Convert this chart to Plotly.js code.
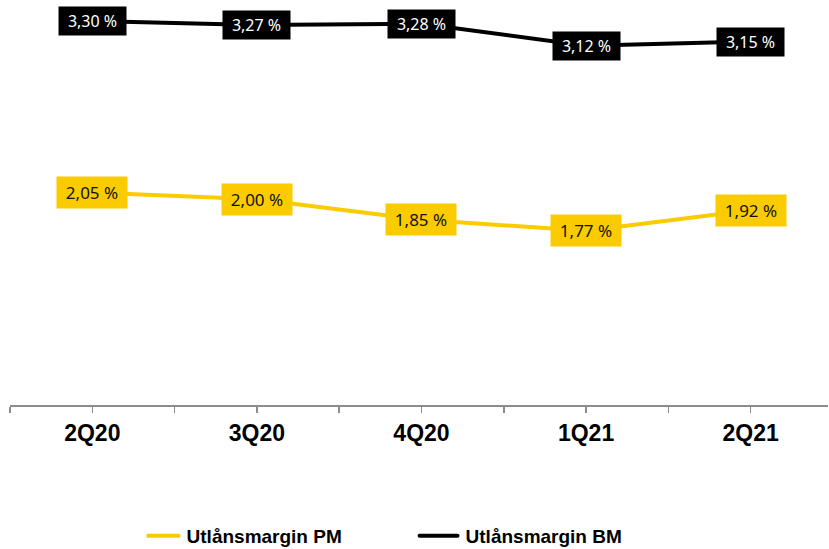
<!DOCTYPE html>
<html>
<head>
<meta charset="utf-8">
<script src="https://cdn.plot.ly/plotly-3.0.1.min.js"></script>
<style>
  html, body { margin: 0; padding: 0; background: #ffffff; }
  #chart { width: 829px; height: 549px; }
</style>
</head>
<body>
<div id="chart"></div>
<script>
// Quarterly lending margins (%)
const quarters = ['2Q20', '3Q20', '4Q20', '1Q21', '2Q21'];
const marginPM = [2.05, 2.00, 1.85, 1.77, 1.92];
const marginBM = [3.30, 3.27, 3.28, 3.12, 3.15];
const seriesNames = ['Utlånsmargin PM', 'Utlånsmargin BM'];

const YELLOW = '#FACC00';
const BLACK = '#000000';

const idx = quarters.map((_, i) => i);

// Ticks at every category centre and every category boundary; labels only at centres
const tickVals = [];
const tickText = [];
for (let i = 0; i < quarters.length; i++) {
  tickVals.push(i - 0.5, i);
  tickText.push('', quarters[i]);
}

const fmt = v => v.toFixed(2).replace('.', ',') + ' %';

const traces = [
  {
    x: idx, y: marginPM, name: seriesNames[0], type: 'scatter', mode: 'lines',
    line: { color: YELLOW, width: 4 }, hoverinfo: 'skip'
  },
  {
    x: idx, y: marginBM, name: seriesNames[1], type: 'scatter', mode: 'lines',
    line: { color: BLACK, width: 4 }, hoverinfo: 'skip'
  }
];

const annotations = [];
marginPM.forEach((v, i) => annotations.push({
  x: i, y: v, xref: 'x', yref: 'y', text: fmt(v), showarrow: false,
  bgcolor: YELLOW, width: 64, height: 25, borderpad: 3,
  font: { family: 'Noto Sans, sans-serif', size: 17, color: '#111111' }
}));
marginBM.forEach((v, i) => annotations.push({
  x: i, y: v, xref: 'x', yref: 'y', text: fmt(v), showarrow: false,
  bgcolor: BLACK, width: 61, height: 22, borderpad: 3,
  font: { family: 'Noto Sans, sans-serif', size: 16, color: '#ffffff' }
}));

const layout = {
  width: 829, height: 549,
  margin: { l: 10, r: 1, t: 0, b: 144 },
  paper_bgcolor: '#ffffff', plot_bgcolor: '#ffffff',
  showlegend: true,
  legend: {
    orientation: 'h',
    xref: 'container', x: 0.1768, xanchor: 'left',
    yref: 'container', y: 0.0237, yanchor: 'middle',
    entrywidth: 234,
    font: { family: 'Liberation Sans, Arial, sans-serif', size: 19, color: '#000000', weight: 'bold' }
  },
  xaxis: {
    range: [-0.5, 4.47], tickmode: 'array', tickvals: tickVals, ticktext: tickText,
    showline: true, linecolor: '#8c8c8c', linewidth: 2,
    ticks: 'outside', ticklen: 6, tickwidth: 1.5, tickcolor: '#8c8c8c',
    showgrid: false, zeroline: false, fixedrange: true,
    tickfont: { family: 'Liberation Sans, Arial, sans-serif', size: 23, color: '#000000', weight: 'bold' }
  },
  yaxis: {
    range: [0.5, 3.453], visible: false, showgrid: false, zeroline: false, fixedrange: true
  },
  annotations: annotations
};

Plotly.newPlot('chart', traces, layout, { displayModeBar: false, staticPlot: true }).then(gd => {
  // Longer legend line samples with rounded ends
  gd.querySelectorAll('.legend .legendlines path').forEach(p => {
    p.setAttribute('d', 'M-6,0h38');
    p.style.strokeLinecap = 'round';
  });
});
</script>
</body>
</html>
